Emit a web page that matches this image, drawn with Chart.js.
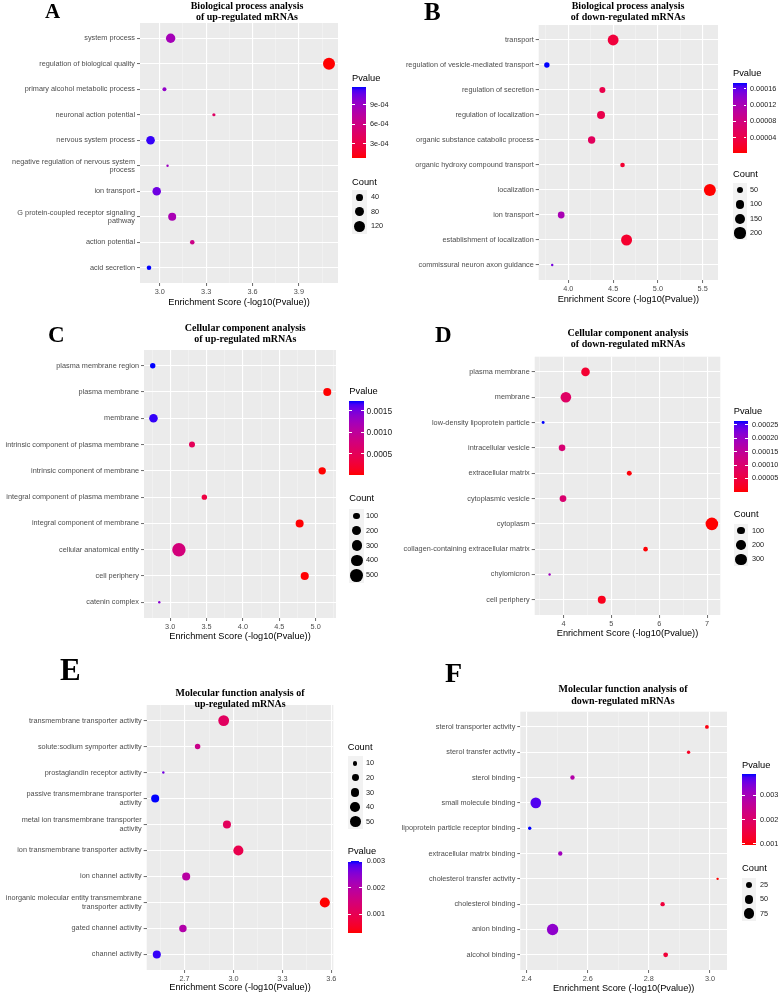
<!DOCTYPE html>
<html>
<head>
<meta charset="utf-8"/>
<title>GO enrichment bubble charts</title>
<script src="https://cdn.jsdelivr.net/npm/chart.js"></script>
<style>
  body { margin:0; width:784px; height:994px; overflow:hidden; background:#fff; position:relative;
         font-family:"Liberation Sans", Arial, sans-serif; }
  canvas { position:absolute; }
  .panel { position:absolute; width:392px; overflow:hidden; }
  .txt { position:absolute; white-space:nowrap; line-height:1; transform:translateY(-50%); }
  .letter { position:absolute; font-family:"Liberation Serif","Times New Roman",serif; font-weight:bold; line-height:1; }
  .title { position:absolute; font-family:"Liberation Serif","Times New Roman",serif; font-weight:bold;
           font-size:10px; line-height:11.3px; text-align:center; white-space:nowrap; transform:translateX(-50%); }
  .bar, .key, .dot, .tk { position:absolute; }
  .key { background:#f2f2f2; }
  .dot { background:#000; border-radius:50%; }
  .tk { background:#fff; height:1px; }
</style>
</head>
<body>
<script>
// ---- A: biological process, up-regulated
const termsA = ['system process', 'regulation of biological quality', 'primary alcohol metabolic process',
  'neuronal action potential', 'nervous system process', 'negative regulation of nervous system\nprocess',
  'ion transport', 'G protein-coupled receptor signaling\npathway', 'action potential', 'acid secretion'];
const scoreA = [3.07, 4.095, 3.03, 3.35, 2.94, 3.05, 2.98, 3.08, 3.21, 2.93];
const countA = [85, 150, 16, 13, 70, 12, 68, 59, 19, 19];
const xTicksA = [3.0, 3.3, 3.6, 3.9];
const countBreaksA = [40, 80, 120];
const pBreaksA = [3e-4, 6e-4, 9e-4];
const pLabelsA = ['3e-04', '6e-04', '9e-04'];

// ---- B: biological process, down-regulated
const termsB = ['transport', 'regulation of vesicle-mediated transport', 'regulation of secretion',
  'regulation of localization', 'organic substance catabolic process', 'organic hydroxy compound transport',
  'localization', 'ion transport', 'establishment of localization', 'commissural neuron axon guidance'];
const scoreB = [4.50, 3.76, 4.38, 4.365, 4.26, 4.605, 5.58, 3.92, 4.65, 3.82];
const countB = [190, 36, 46, 91, 75, 26, 240, 61, 195, 14];
const xTicksB = [4.0, 4.5, 5.0, 5.5];
const countBreaksB = [50, 100, 150, 200];
const pBreaksB = [4e-5, 8e-5, 1.2e-4, 1.6e-4];
const pLabelsB = ['0.00004', '0.00008', '0.00012', '0.00016'];

// ---- C: cellular component, up-regulated
const termsC = ['plasma membrane region', 'plasma membrane', 'membrane', 'intrinsic component of plasma membrane',
  'intrinsic component of membrane', 'integral component of plasma membrane', 'integral component of membrane',
  'cellular anatomical entity', 'cell periphery', 'catenin complex'];
const scoreC = [2.76, 5.16, 2.77, 3.30, 5.09, 3.47, 4.78, 3.12, 4.85, 2.85];
const countC = [46, 149, 181, 64, 120, 46, 149, 560, 155, 5];
const xTicksC = [3.0, 3.5, 4.0, 4.5, 5.0];
const countBreaksC = [100, 200, 300, 400, 500];
const pBreaksC = [5e-4, 1e-3, 1.5e-3];
const pLabelsC = ['0.0005', '0.0010', '0.0015'];

// ---- D: cellular component, down-regulated
const termsD = ['plasma membrane', 'membrane', 'low-density lipoprotein particle', 'intracellular vesicle',
  'extracellular matrix', 'cytoplasmic vesicle', 'cytoplasm', 'collagen-containing extracellular matrix',
  'chylomicron', 'cell periphery'];
const scoreD = [4.46, 4.05, 3.575, 3.97, 5.375, 3.99, 7.10, 5.715, 3.71, 4.80];
const countD = [148, 251, 12, 74, 35, 78, 382, 28, 11, 123];
const xTicksD = [4, 5, 6, 7];
const countBreaksD = [100, 200, 300];
const pBreaksD = [5e-5, 1e-4, 1.5e-4, 2e-4, 2.5e-4];
const pLabelsD = ['0.00005', '0.00010', '0.00015', '0.00020', '0.00025'];

// ---- E: molecular function, up-regulated
const termsE = ['transmembrane transporter activity', 'solute:sodium symporter activity', 'prostaglandin receptor activity',
  'passive transmembrane transporter\nactivity', 'metal ion transmembrane transporter\nactivity',
  'ion transmembrane transporter activity', 'ion channel activity',
  'inorganic molecular entity transmembrane\ntransporter activity', 'gated channel activity', 'channel activity'];
const scoreE = [2.94, 2.78, 2.57, 2.52, 2.96, 3.03, 2.71, 3.56, 2.69, 2.53];
const countE = [51, 13, 7, 27, 27, 44, 27, 44, 23, 27];
const xTicksE = [2.7, 3.0, 3.3, 3.6];
const countBreaksE = [10, 20, 30, 40, 50];
const pBreaksE = [1e-3, 2e-3, 3e-3];
const pLabelsE = ['0.001', '0.002', '0.003'];

// ---- F: molecular function, down-regulated
const termsF = ['sterol transporter activity', 'sterol transfer activity', 'sterol binding', 'small molecule binding',
  'lipoprotein particle receptor binding', 'extracellular matrix binding', 'cholesterol transfer activity',
  'cholesterol binding', 'anion binding', 'alcohol binding'];
const scoreF = [2.99, 2.93, 2.55, 2.43, 2.41, 2.51, 3.025, 2.845, 2.485, 2.855];
const countF = [12, 11, 14, 82, 11, 14, 10, 14, 95, 16];
const xTicksF = [2.4, 2.6, 2.8, 3.0];
const countBreaksF = [25, 50, 75];
const pBreaksF = [1e-3, 2e-3, 3e-3];
const pLabelsF = ['0.001', '0.002', '0.003'];

const AXIS_TITLE = 'Enrichment Score (-log10(Pvalue))';

// red -> blue gradient interpolated in CIELAB (like ggplot's scale_colour_gradient)
function toLin(c) { c /= 255; return c <= 0.04045 ? c / 12.92 : Math.pow((c + 0.055) / 1.055, 2.4); }
function toSrgb(c) { c = c <= 0.0031308 ? 12.92 * c : 1.055 * Math.pow(c, 1 / 2.4) - 0.055; return Math.round(Math.min(1, Math.max(0, c)) * 255); }
const WX = 0.95047, WZ = 1.08883;
function rgb2lab(rgb) {
  const [r, g, b] = rgb.map(toLin);
  const X = (0.4124 * r + 0.3576 * g + 0.1805 * b) / WX, Y = 0.2126 * r + 0.7152 * g + 0.0722 * b,
        Z = (0.0193 * r + 0.1192 * g + 0.9505 * b) / WZ;
  const f = t => t > 0.008856 ? Math.cbrt(t) : 7.787 * t + 16 / 116;
  return [116 * f(Y) - 16, 500 * (f(X) - f(Y)), 200 * (f(Y) - f(Z))];
}
function lab2rgb([L, a, b]) {
  const fy = (L + 16) / 116, fx = fy + a / 500, fz = fy - b / 200;
  const fi = t => t * t * t > 0.008856 ? t * t * t : (t - 16 / 116) / 7.787;
  const X = fi(fx) * WX, Y = fi(fy), Z = fi(fz) * WZ;
  return [toSrgb(3.2406 * X - 1.5372 * Y - 0.4986 * Z), toSrgb(-0.9689 * X + 1.8758 * Y + 0.0415 * Z),
          toSrgb(0.0557 * X - 0.2040 * Y + 1.0570 * Z)];
}
const LOW = rgb2lab([255, 0, 0]), HIGH = rgb2lab([0, 0, 255]);
function ramp(t) {
  t = Math.max(0, Math.min(1, t));
  return 'rgb(' + lab2rgb(LOW.map((v, i) => v + (HIGH[i] - v) * t)).join(',') + ')';
}

// layout of each panel (page pixels)
const panels = [
  { terms: termsA, score: scoreA, count: countA, xTicks: xTicksA, cb: countBreaksA, pb: pBreaksA, pl: pLabelsA, dec: 1,
    letter: 'A', box: { x: 0, y: 0 }, plot: { l: 140, t: 23, r: 338, b: 283 }, axisTitleY: 301.7, rr: [1.2, 6], lf: 7.3,
    let: { x: 45, base: 19, size: 21 }, title: ['Biological process analysis', 'of up-regulated mRNAs'], tcx: 247, ty: 5.3,
    pv: { x: 352, ty: 79, top: 87, h: 71, w: 14, lx: 370 }, cn: { x: 352, ty: 183, top: 190, kh: 14.5, kw: 15, lx: 371 } },
  { terms: termsB, score: scoreB, count: countB, xTicks: xTicksB, cb: countBreaksB, pb: pBreaksB, pl: pLabelsB, dec: 1,
    letter: 'B', box: { x: 392, y: 0 }, plot: { l: 538.7, t: 25, r: 718, b: 280 }, axisTitleY: 299.3, rr: [1.2, 6], lf: 7.3,
    let: { x: 424, base: 20, size: 25 }, title: ['Biological process analysis', 'of down-regulated mRNAs'], tcx: 628, ty: 5.3,
    pv: { x: 733, ty: 74, top: 83.3, h: 69.4, w: 13.5, lx: 750 }, cn: { x: 733, ty: 175, top: 183, kh: 14.3, kw: 14, lx: 750 } },
  { terms: termsC, score: scoreC, count: countC, xTicks: xTicksC, cb: countBreaksC, pb: pBreaksC, pl: pLabelsC, dec: 1,
    letter: 'C', box: { x: 0, y: 320 }, plot: { l: 144, t: 350, r: 336, b: 618 }, axisTitleY: 636, rr: [1.2, 6.7], lf: 8.4,
    let: { x: 48, base: 342, size: 23 }, title: ['Cellular component analysis', 'of up-regulated mRNAs'], tcx: 245.3, ty: 327.3,
    pv: { x: 349.3, ty: 391.7, top: 400.7, h: 74.3, w: 14.7, lx: 366.5 }, cn: { x: 349.3, ty: 499, top: 508.6, kh: 14.8, kw: 15, lx: 366 } },
  { terms: termsD, score: scoreD, count: countD, xTicks: xTicksD, cb: countBreaksD, pb: pBreaksD, pl: pLabelsD, dec: 0,
    letter: 'D', box: { x: 392, y: 320 }, plot: { l: 534.7, t: 356.7, r: 720.3, b: 615 }, axisTitleY: 633.3, rr: [1.2, 6.3], lf: 7.3,
    let: { x: 435, base: 342, size: 23 }, title: ['Cellular component analysis', 'of down-regulated mRNAs'], tcx: 628, ty: 332.3,
    pv: { x: 733.7, ty: 411.7, top: 420.7, h: 71, w: 14.3, lx: 752 }, cn: { x: 733.7, ty: 515, top: 523.6, kh: 14.3, kw: 14.6, lx: 752 } },
  { terms: termsE, score: scoreE, count: countE, xTicks: xTicksE, cb: countBreaksE, pb: pBreaksE, pl: pLabelsE, dec: 1,
    letter: 'E', box: { x: 0, y: 650 }, plot: { l: 146.7, t: 705, r: 333.3, b: 970 }, axisTitleY: 987.3, rr: [1.2, 5.4], lf: 7.3,
    let: { x: 60, base: 680, size: 31 }, title: ['Molecular function analysis of', 'up-regulated mRNAs'], tcx: 240, ty: 692.7,
    pv: { x: 347.7, ty: 851.7, top: 860.7, h: 72.6, w: 14.5, lx: 366.7 }, cn: { x: 347.7, ty: 747.7, top: 756, kh: 14.6, kw: 15, lx: 366 } },
  { terms: termsF, score: scoreF, count: countF, xTicks: xTicksF, cb: countBreaksF, pb: pBreaksF, pl: pLabelsF, dec: 1,
    letter: 'F', box: { x: 392, y: 650 }, plot: { l: 520.3, t: 711.7, r: 727, b: 970 }, axisTitleY: 988.3, rr: [1.2, 5.7], lf: 7.3,
    let: { x: 445, base: 682, size: 28 }, title: ['Molecular function analysis of', 'down-regulated mRNAs'], tcx: 623, ty: 689,
    pv: { x: 742, ty: 765.7, top: 774, h: 71, w: 14, lx: 760 }, cn: { x: 742, ty: 869.3, top: 878, kh: 14.2, kw: 14, lx: 760 } }
];

Chart.defaults.font.family = '"Liberation Sans", Arial, sans-serif';

const panelBg = {
  id: 'panelBg',
  beforeDraw(chart) {
    const a = chart.chartArea, ctx = chart.ctx;
    ctx.save();
    ctx.fillStyle = '#ebebeb';
    ctx.fillRect(a.left, a.top, a.right - a.left, a.bottom - a.top);
    ctx.restore();
  }
};

function el(parent, cls, css, text) {
  const d = document.createElement('div');
  d.className = cls;
  Object.assign(d.style, css);
  if (text !== undefined) d.textContent = text;
  parent.appendChild(d);
  return d;
}

// major ticks plus ggplot-style minor breaks half-way between
function xTickList(major, lo, hi) {
  const step = major[1] - major[0], out = [];
  const r = v => Math.round(v * 10000) / 10000;
  major.forEach(m => {
    const mi = r(m - step / 2);
    if (mi >= lo && mi <= hi) out.push({ value: mi, minor: true });
    if (m >= lo && m <= hi) out.push({ value: m, minor: false });
  });
  const last = r(major[major.length - 1] + step / 2);
  if (last <= hi) out.push({ value: last, minor: true });
  return out;
}

panels.forEach(P => {
  const wrap = el(document.body, 'panel', { left: P.box.x + 'px', top: P.box.y + 'px', height: '345px' });
  const W = 392, H = Math.round(P.axisTitleY + 8 - P.box.y);

  const dmin = Math.min(...P.score), dmax = Math.max(...P.score), ext = (dmax - dmin) * 0.05;
  const pv = P.score.map(s => Math.pow(10, -s));
  const pmin = Math.min(...pv), pmax = Math.max(...pv);
  const cmin = Math.min(...P.count), cmax = Math.max(...P.count);
  const size = c => P.rr[0] + (P.rr[1] - P.rr[0]) * Math.sqrt(Math.max(0, (c - cmin) / (cmax - cmin)));
  const colour = p => ramp((p - pmin) / (pmax - pmin));

  const cv = document.createElement('canvas');
  cv.width = W; cv.height = H;
  Object.assign(cv.style, { left: '0px', top: '0px', width: W + 'px', height: H + 'px' });
  wrap.appendChild(cv);

  const lo = dmin - ext, hi = dmax + ext;
  const xt = xTickList(P.xTicks, lo, hi);
  const n = P.terms.length;

  new Chart(cv, {
    type: 'bubble',
    data: {
      datasets: [{
        data: P.score.map((s, i) => ({ x: s, y: i, r: size(P.count[i]) })),
        backgroundColor: pv.map(colour),
        borderWidth: 0,
        hoverBorderWidth: 0,
        clip: false
      }]
    },
    options: {
      responsive: false,
      animation: false,
      events: [],
      layout: { padding: { left: 0, top: P.plot.t - P.box.y, right: P.box.x + W - P.plot.r, bottom: 0 } },
      plugins: { legend: { display: false }, tooltip: { enabled: false } },
      scales: {
        x: {
          type: 'linear', min: lo, max: hi,
          afterBuildTicks: s => { s.ticks = xt.map(t => ({ value: t.value, minor: t.minor })); },
          afterFit: s => { s.height = P.box.y + H - P.plot.b; },
          border: { display: false },
          grid: {
            color: c => (c.tick && c.tick.minor) ? 'rgba(255,255,255,0.55)' : '#ffffff',
            lineWidth: c => (c.tick && c.tick.minor) ? 0.6 : 1.1,
            tickColor: c => (c.tick && c.tick.minor) ? 'rgba(0,0,0,0)' : '#444',
            tickLength: 3, tickWidth: 0.8
          },
          ticks: {
            autoSkip: false, maxRotation: 0, padding: 2, color: '#4d4d4d', font: { size: 7.3 },
            callback: (v, i, ticks) => ticks[i].minor ? '' : Number(v).toFixed(P.dec)
          },
          title: { display: true, text: AXIS_TITLE, color: '#000', font: { size: 9.2 }, padding: { top: 0, bottom: 2 } }
        },
        y: {
          type: 'linear', min: -0.6, max: n - 0.4, reverse: true,
          afterBuildTicks: s => { s.ticks = P.terms.map((t, i) => ({ value: i })); },
          afterFit: s => { s.width = P.plot.l - P.box.x; },
          border: { display: false },
          grid: { color: '#ffffff', lineWidth: 1.1, tickColor: '#444', tickLength: 3, tickWidth: 0.8 },
          ticks: {
            autoSkip: false, padding: 2, color: '#4d4d4d', font: { size: 7.3, lineHeight: 1.15 },
            callback: v => P.terms[v] ? P.terms[v].split('\n') : ''
          }
        }
      }
    },
    plugins: [panelBg]
  });

  // panel letter and title
  const ox = P.box.x, oy = P.box.y;
  el(wrap, 'letter', { left: (P.let.x - ox) + 'px', top: (P.let.base - oy - 0.8375 * P.let.size) + 'px', fontSize: P.let.size + 'px' }, P.letter);
  const t = el(wrap, 'title', { left: (P.tcx - ox) + 'px', top: (P.ty - oy - 5.65) + 'px' });
  P.title.forEach(line => el(t, '', { position: 'static' }, line));

  // Pvalue colour bar
  const g = P.pv;
  el(wrap, 'txt', { left: (g.x - ox) + 'px', top: (g.ty - oy) + 'px', fontSize: '9.3px', color: '#000' }, 'Pvalue');
  const stops = [];
  for (let k = 0; k <= 20; k++) stops.push(ramp(k / 20) + ' ' + (k * 5) + '%');
  el(wrap, 'bar', { left: (g.x - ox) + 'px', top: (g.top - oy) + 'px', width: g.w + 'px', height: g.h + 'px',
                    background: 'linear-gradient(to top,' + stops.join(',') + ')' });
  P.pb.forEach((v, i) => {
    const y = g.top + g.h * (pmax - v) / (pmax - pmin);
    el(wrap, 'tk', { left: (g.x - ox) + 'px', top: (y - oy - 0.5) + 'px', width: (g.w / 5) + 'px' });
    el(wrap, 'tk', { left: (g.x + g.w * 0.8 - ox) + 'px', top: (y - oy - 0.5) + 'px', width: (g.w / 5) + 'px' });
    el(wrap, 'txt', { left: (g.lx - ox) + 'px', top: (y - oy) + 'px', fontSize: P.lf + 'px', color: '#222' }, P.pl[i]);
  });

  // Count size legend
  const c = P.cn;
  el(wrap, 'txt', { left: (c.x - ox) + 'px', top: (c.ty - oy) + 'px', fontSize: '9.3px', color: '#000' }, 'Count');
  el(wrap, 'key', { left: (c.x - ox) + 'px', top: (c.top - oy) + 'px', width: c.kw + 'px', height: (c.kh * P.cb.length) + 'px' });
  P.cb.forEach((v, i) => {
    const r = size(v), cy = c.top + c.kh * (i + 0.5);
    el(wrap, 'dot', { left: (c.x + c.kw / 2 - r - ox) + 'px', top: (cy - r - oy) + 'px', width: (2 * r) + 'px', height: (2 * r) + 'px' });
    el(wrap, 'txt', { left: (c.lx - ox) + 'px', top: (cy - oy) + 'px', fontSize: '7.3px', color: '#222' }, String(v));
  });
});
</script>
</body>
</html>
